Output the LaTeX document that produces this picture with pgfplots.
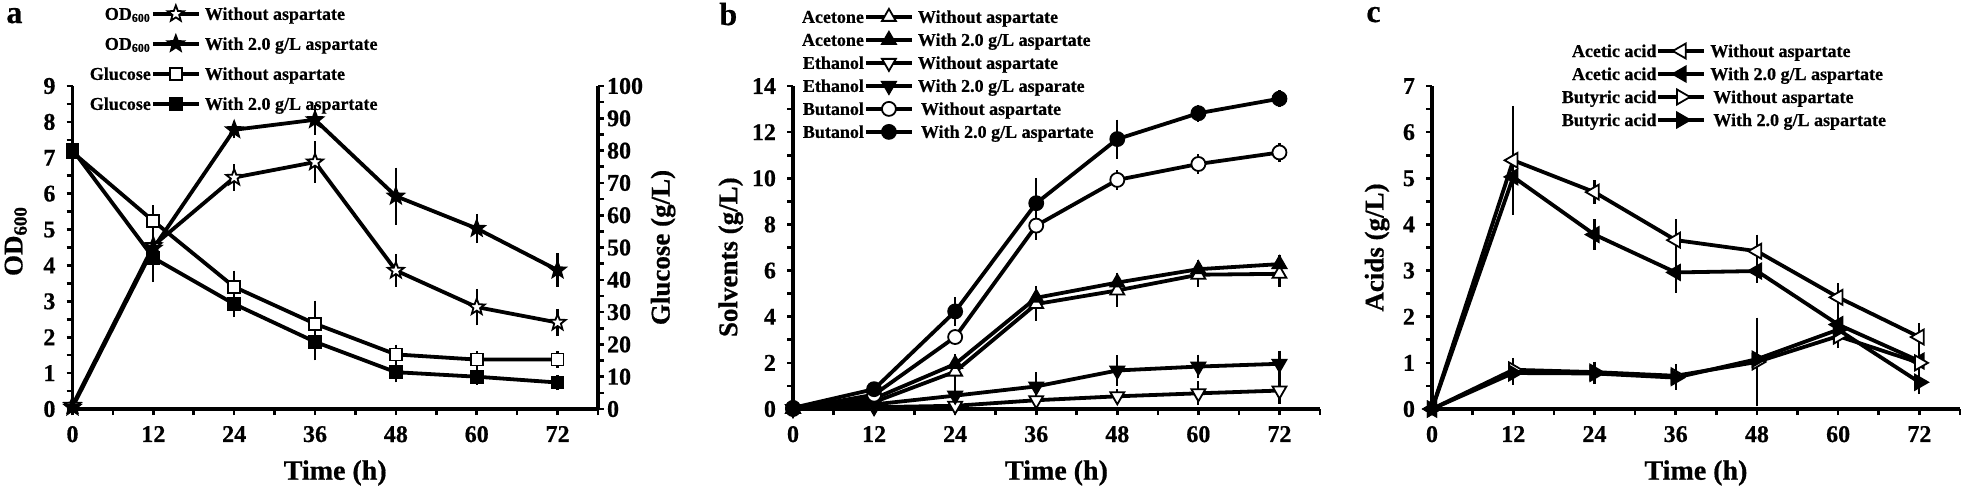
\documentclass[border=0pt]{standalone}
\usepackage{fontspec}
\setmainfont{Liberation Serif}[BoldFeatures={FakeBold=0.6}]
\usepackage{pgfplots}
\pgfplotsset{compat=1.18}
\usetikzlibrary{plotmarks}

\pgfdeclareplotmark{fstar}{%
  \pgfpathmoveto{\pgfpointpolar{90}{\pgfplotmarksize}}%
  \pgfpathlineto{\pgfpointpolar{126}{0.42*\pgfplotmarksize}}%
  \pgfpathlineto{\pgfpointpolar{162}{\pgfplotmarksize}}%
  \pgfpathlineto{\pgfpointpolar{198}{0.42*\pgfplotmarksize}}%
  \pgfpathlineto{\pgfpointpolar{234}{\pgfplotmarksize}}%
  \pgfpathlineto{\pgfpointpolar{270}{0.42*\pgfplotmarksize}}%
  \pgfpathlineto{\pgfpointpolar{306}{\pgfplotmarksize}}%
  \pgfpathlineto{\pgfpointpolar{342}{0.42*\pgfplotmarksize}}%
  \pgfpathlineto{\pgfpointpolar{18}{\pgfplotmarksize}}%
  \pgfpathlineto{\pgfpointpolar{54}{0.42*\pgfplotmarksize}}%
  \pgfpathclose
  \pgfusepathqfillstroke
}

\newcommand\lgf{\bfseries\fontsize{9}{10}\selectfont}

\pgfplotsset{
  base/.style={
    scale only axis, height=161.5pt,
    xmin=0, xmax=78, xtick={0,12,...,72}, minor xtick={6,18,...,78},
    axis x line*=bottom, axis y line*=left,
    axis line style={-, line width=1.8pt},
    tick align=outside,
    major tick length=3pt, minor tick length=3pt,
    every tick/.style={black, line width=1.3pt},
    tick label style={font=\bfseries\fontsize{12}{12}\selectfont},
    /pgf/number format/assume math mode=true,
    xlabel={Time (h)},
    every axis x label/.style={at={(axis description cs:0.5,-0.198)}, anchor=center, font=\bfseries\fontsize{14}{14}\selectfont},
    every axis y label/.style={rotate=90, anchor=center, font=\bfseries\fontsize{13.5}{14}\selectfont},
    clip=false,
    legend cell align=left,
    legend style={draw=none, fill=none, inner sep=0pt, outer sep=0pt,
      nodes={inner sep=0pt, anchor=west}, column sep=0pt, row sep=0pt, font=\lgf},
    x tick label style={yshift=-2pt},
    y tick label style={xshift=-2pt},
  },
  ser/.style={black, line width=1.9pt, mark size=#1,
    error bars/y dir=both, error bars/y explicit,
    error bars/error bar style={line width=1.1pt, black, solid},
    error bars/error mark options={line width=1.1pt, mark size=2.5pt, black}},
  ser/.default=3.5pt,
  open/.style={mark options={solid, fill=white, draw=black, line width=0.9pt, #1}},
  open/.default={},
  full/.style={mark options={solid, fill=black, draw=black, line width=0.9pt, #1}},
  full/.default={},
  leg/.style 2 args={legend image code/.code={%
     \path (0pt,-4.8pt) (0pt,4.8pt);
     \node[anchor=base east, inner sep=0pt, font=\lgf] at (-1pt,-3pt) {#1};
     \draw[mark repeat=2, mark phase=2, ##1] plot coordinates {(0pt,0pt) (11.5pt,0pt) (23pt,0pt)};
     \node[anchor=base west, inner sep=0pt, font=\lgf] at (26pt,-3pt) {#2};
  }},
}

\begin{document}
\begin{tikzpicture}
\path[use as bounding box] (0pt,0pt) rectangle (980.5pt,-244.5pt);

% ---------------- panel a ----------------
\begin{axis}[base, at={(36.25pt,-204.5pt)}, anchor=south west, width=262.75pt,
  ymin=0, ymax=9, ytick={0,1,...,9}, minor y tick num=1,
  ylabel={OD\textsubscript{600}},
  every axis y label/.append style={at={(axis description cs:-0.108,0.52)}}]
\addplot[ser=4.2pt, mark=fstar, open] table[x=x, y=y, y error=e] {
x y e
0 0.10 0
12 4.55 0.2
24 6.45 0.23
36 6.88 0.44
48 3.86 0.32
60 2.84 0.37
72 2.41 0.24
};
\addplot[ser=4.2pt, mark=fstar, full] table[x=x, y=y, y error=e] {
x y e
0 0.05 0
12 4.48 0.25
24 7.78 0.1
36 8.06 0.28
48 5.93 0.66
60 5.03 0.27
72 3.87 0.33
};
\end{axis}
\begin{axis}[base, at={(36.25pt,-204.5pt)}, anchor=south west, width=262.75pt,
  axis x line=none, axis y line*=right,
  ymin=0, ymax=100, ytick={0,10,...,100}, minor y tick num=1,
  y tick label style={xshift=0pt},
  ylabel={Glucose (g/L)},
  every axis y label/.append style={at={(axis description cs:1.124,0.5)}},
  legend style={at={(axis description cs:0.033,1.259)}, anchor=north west, row sep=3.5pt}]
\addlegendimage{ser=4.2pt, mark=fstar, open, leg={OD\textsubscript{600}}{Without aspartate}}
\addlegendentry{}
\addlegendimage{ser=4.2pt, mark=fstar, full, leg={OD\textsubscript{600}}{With 2.0 g/L aspartate}}
\addlegendentry{}
\addplot[ser=3pt, mark=square*, open, leg={Glucose}{Without aspartate}] table[x=x, y=y, y error=e] {
x y e
0 79.5 0
12 58.2 3.3
24 37.8 3.5
36 26.4 5.6
48 16.9 1.5
60 15.3 1.0
72 15.3 1.0
};
\addlegendentry{}
\addplot[ser=3pt, mark=square*, full, leg={Glucose}{With 2.0 g/L aspartate}] table[x=x, y=y, y error=e] {
x y e
0 80.3 0
12 46.8 6.0
24 32.5 2.5
36 20.8 4.2
48 11.4 1.6
60 10.0 1.0
72 8.2 0.8
};
\addlegendentry{}
\end{axis}

% ---------------- panel b ----------------
\begin{axis}[base, at={(396.5pt,-204.5pt)}, anchor=south west, width=263.5pt,
  ymin=0, ymax=14, ytick={0,2,...,14}, minor y tick num=1,
  ylabel={Solvents (g/L)},
  every axis y label/.append style={at={(axis description cs:-0.118,0.47)}},
  legend style={at={(axis description cs:0.017,1.2496)}, anchor=north west}]
\addplot[ser=4pt, mark=triangle*, open, leg={Acetone}{Without aspartate}] table[x=x, y=y, y error=e] {
x y e
0 0 0
12 0.30 0.1
24 1.62 0.3
36 4.55 0.5
48 5.14 0.5
60 5.82 0.3
72 5.86 0.35
};
\addlegendentry{}
\addplot[ser=4pt, mark=triangle*, full, leg={Acetone}{With 2.0 g/L aspartate}] table[x=x, y=y, y error=e] {
x y e
0 0 0
12 0.45 0.1
24 1.95 0.2
36 4.82 0.3
48 5.48 0.2
60 6.06 0.2
72 6.28 0.2
};
\addlegendentry{}
\addplot[ser=4pt, mark=triangle*, open={rotate=180}, leg={Ethanol}{Without aspartate}] table[x=x, y=y, y error=e] {
x y e
0 0 0
12 0.08 0.05
24 0.14 0.1
36 0.38 0.2
48 0.55 0.1
60 0.68 0.3
72 0.80 0.35
};
\addlegendentry{}
\addplot[ser=4pt, mark=triangle*, full={rotate=180}, leg={Ethanol}{With 2.0 g/L asparate}] table[x=x, y=y, y error=e] {
x y e
0 0 0
12 0.20 0.1
24 0.58 0.45
36 0.98 0.4
48 1.67 0.45
60 1.84 0.3
72 1.96 0.35
};
\addlegendentry{}
\addplot[ser=3.5pt, mark=*, open, leg={Butanol}{\,Without aspartate}] table[x=x, y=y, y error=e] {
x y e
0 0 0
12 0.62 0.1
24 3.12 0.1
36 7.95 0.4
48 9.93 0.2
60 10.62 0.2
72 11.12 0.2
};
\addlegendentry{}
\addplot[ser=3.5pt, mark=*, full, leg={Butanol}{\,With 2.0 g/L aspartate}] table[x=x, y=y, y error=e] {
x y e
0 0.05 0
12 0.86 0.1
24 4.23 0.4
36 8.92 0.88
48 11.70 0.63
60 12.82 0.15
72 13.45 0.15
};
\addlegendentry{}
\end{axis}

% ---------------- panel c ----------------
\begin{axis}[base, at={(716pt,-204.5pt)}, anchor=south west, width=264pt,
  ymin=0, ymax=7, ytick={0,1,...,7}, minor y tick num=1,
  ylabel={Acids (g/L)},
  every axis y label/.append style={at={(axis description cs:-0.104,0.5)}},
  legend style={at={(axis description cs:0.246,1.144)}, anchor=north west}]
\addplot[ser=4.3pt, mark=triangle*, open={rotate=90}, leg={Acetic acid}{Without aspartate}] table[x=x, y=y, y error=e] {
x y e
0 0 0
12 5.39 1.07
24 4.70 0.15
36 3.66 0.34
48 3.42 0.25
60 2.42 0.2
72 1.56 0.2
};
\addlegendentry{}
\addplot[ser=4.3pt, mark=triangle*, full={rotate=90}, leg={Acetic acid}{With 2.0 g/L aspartate}] table[x=x, y=y, y error=e] {
x y e
0 0 0
12 5.03 0.68
24 3.78 0.22
36 2.96 0.33
48 2.99 0.15
60 1.83 0.2
72 1.04 0.3
};
\addlegendentry{}
\addplot[ser=4.3pt, mark=triangle*, open={rotate=-90}, leg={Butyric acid}{\,Without aspartate}] table[x=x, y=y, y error=e] {
x y e
0 0 0
12 0.85 0.15
24 0.80 0.12
36 0.72 0.15
48 1.02 0.85
60 1.58 0.15
72 1.00 0.2
};
\addlegendentry{}
\addplot[ser=4.3pt, mark=triangle*, full={rotate=-90}, leg={Butyric acid}{\,With 2.0 g/L aspartate}] table[x=x, y=y, y error=e] {
x y e
0 0 0
12 0.78 0.15
24 0.77 0.12
36 0.68 0.15
48 1.08 0.55
60 1.72 0.2
72 0.58 0.15
};
\addlegendentry{}
\end{axis}

\node[anchor=base west, inner sep=0pt, font=\bfseries\fontsize{16}{16}\selectfont] at (3pt,-11.5pt) {a};
\node[anchor=base west, inner sep=0pt, font=\bfseries\fontsize{16}{16}\selectfont] at (359.5pt,-12.5pt) {b};
\node[anchor=base west, inner sep=0pt, font=\bfseries\fontsize{16}{16}\selectfont] at (683pt,-11pt) {c};
\end{tikzpicture}
\end{document}
